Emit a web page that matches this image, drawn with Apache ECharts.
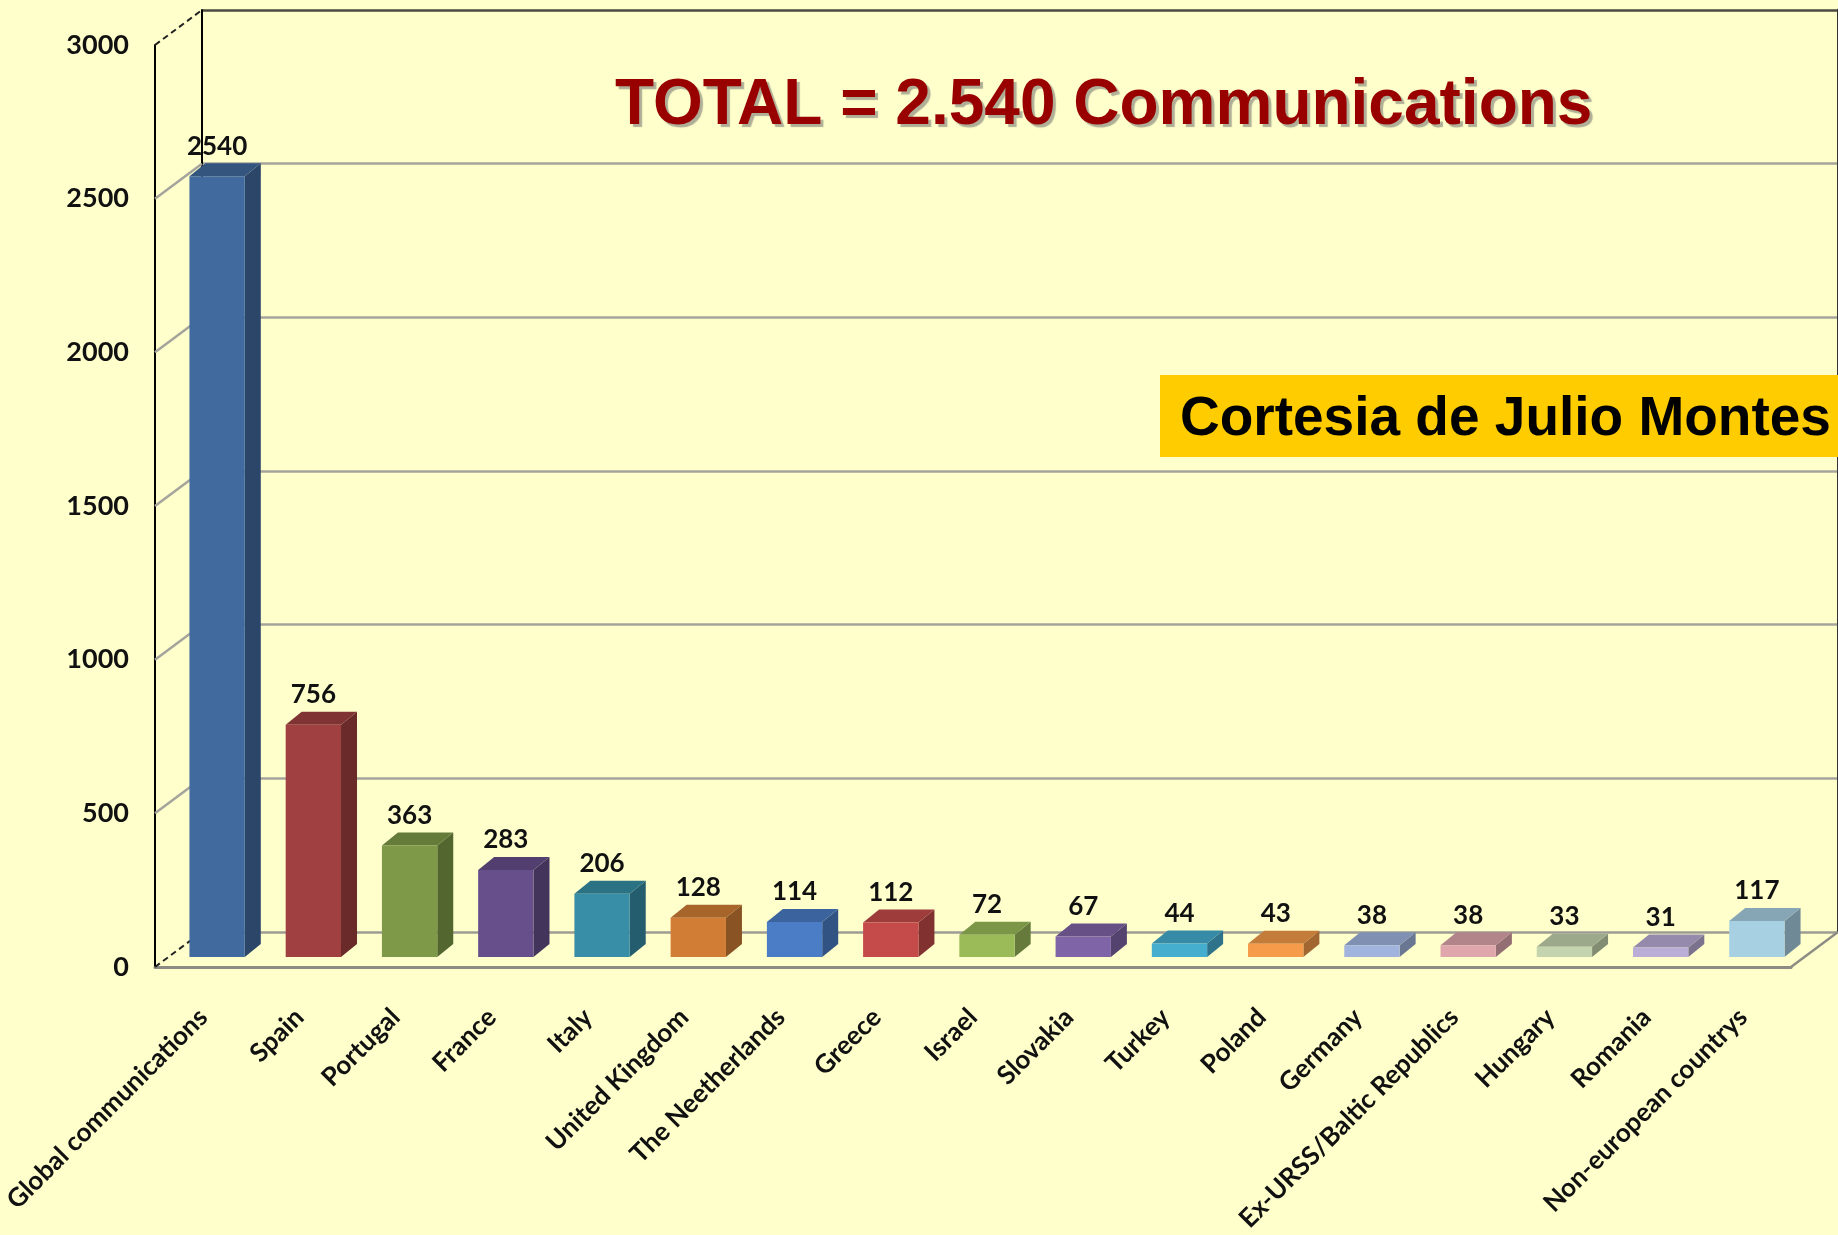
<!DOCTYPE html>
<html>
<head>
<meta charset="utf-8">
<script src="https://cdn.jsdelivr.net/npm/echarts@6/dist/echarts.min.js"></script>
<style>
html,body{margin:0;padding:0;background:#FFFFCC;}
#chart{width:1838px;height:1235px;}
</style>
</head>
<body>
<div id="chart"></div>
<script>
const categories = ['Global communications','Spain','Portugal','France','Italy','United Kingdom','The Neetherlands','Greece','Israel','Slovakia','Turkey','Poland','Germany','Ex-URSS/Baltic Republics','Hungary','Romania','Non-european countrys'];
const values = [2540,756,363,283,206,128,114,112,72,67,44,43,38,38,33,31,117];
const yTicks = [0,500,1000,1500,2000,2500,3000];
const barColors = ['#416A9E','#A04040','#7E9A48','#664F8B','#378EA6','#D17D36','#4A7DC6','#C54A4A','#9BBB59','#8064A8','#45AECF','#F59B4A','#A0B4DE','#DFA6AC','#C3D4AE','#BAADD6','#A8D0E3'];

const FRONT = {left:155, top:45, width:1636, height:922};
const BARS  = {left:169, top:35, width:1636, height:922};
const BACK  = {left:202, top:10, width:1636, height:922};
const DX = BACK.left - FRONT.left, DY = BACK.top - FRONT.top;
const BDX = 16, BDY = -13;

function shade(hex, f){
  const n = parseInt(hex.slice(1),16);
  const r = Math.round(((n>>16)&255)*f), g = Math.round(((n>>8)&255)*f), b = Math.round((n&255)*f);
  return 'rgb('+r+','+g+','+b+')';
}

const chart = echarts.init(document.getElementById('chart'));
const yMax = yTicks[yTicks.length-1];
const yBase = {type:'value', min:0, max:yMax, interval:500};
const gridBase = {containLabel:false, outerBoundsMode:'none'};

chart.setOption({
  backgroundColor:'#FFFFCC',
  animation:false,
  title:[{
    text:'TOTAL = 2.540 Communications',
    left:610, top:69,
    textStyle:{fontFamily:'Liberation Sans', fontWeight:'bold', fontSize:64, color:'#990000',
      textShadowColor:'rgba(110,110,110,0.55)', textShadowOffsetX:3, textShadowOffsetY:3, textShadowBlur:1}
  }],
  graphic:[
    {type:'rect', z:100, shape:{x:1160, y:375, width:678, height:82}, style:{fill:'#FFCC00'}},
    {type:'text', z:101, x:1180, y:420, style:{text:'Cortesia de Julio Montes', font:'bold 55px "Liberation Sans"', verticalAlign:'middle', fill:'#000'}}
  ],
  grid:[
    Object.assign({}, gridBase, FRONT),
    Object.assign({}, gridBase, BARS),
    Object.assign({}, gridBase, BACK)
  ],
  xAxis:[
    {type:'category', gridIndex:0, data:categories, axisLine:{show:true, lineStyle:{color:'#8C8C84', width:3}}, axisTick:{show:false}, splitLine:{show:false},
      axisLabel:{interval:0, rotate:45, margin:46, fontFamily:'Lato', fontWeight:'bold', fontSize:26, color:'#111'}},
    {type:'category', gridIndex:1, data:categories, show:false},
    {type:'category', gridIndex:2, data:categories, show:false}
  ],
  yAxis:[
    Object.assign({gridIndex:0, axisLine:{show:true, lineStyle:{color:'#000', width:2}}, axisTick:{show:false}, splitLine:{show:false},
      axisLabel:{margin:26, fontFamily:'Lato', fontWeight:'bold', fontSize:27, color:'#111', formatter:function(v){return String(v);}}}, yBase),
    Object.assign({gridIndex:1, show:false}, yBase),
    Object.assign({gridIndex:2, axisLine:{show:true, lineStyle:{color:'#000', width:2}}, axisTick:{show:false}, axisLabel:{show:false},
      splitLine:{show:true, lineStyle:{color:['#9C9C94','#A4A49C','#A4A49C','#A4A49C','#A4A49C','#A4A49C','#4A4A40'], width:2.5}}}, yBase),
    Object.assign({gridIndex:2, position:'right', axisLine:{show:true, lineStyle:{color:'#333', width:3}}, axisTick:{show:false}, axisLabel:{show:false}, splitLine:{show:false}}, yBase)
  ],
  series:[
    {
      type:'custom', xAxisIndex:0, yAxisIndex:0, z:1,
      data: yTicks.map(v=>[0,v]),
      renderItem:function(params, api){
        const v = api.value(1);
        const y = api.coord([0, v])[1];
        const x = params.coordSys.x;
        const edge = (v===0 || v===yMax);
        return {type:'line', shape:{x1:x, y1:y, x2:x+DX, y2:y+DY},
          style:{stroke: edge ? '#222' : '#A4A49C', lineWidth: edge ? 2 : 2.5, lineDash: edge ? [6,4] : null}};
      }
    },
    {
      type:'custom', xAxisIndex:0, yAxisIndex:0, z:1,
      data:[[categories.length-1, 0]],
      renderItem:function(params, api){
        const y = api.coord([0, 0])[1];
        const x = params.coordSys.x + params.coordSys.width;
        return {type:'line', shape:{x1:x, y1:y, x2:x+DX, y2:y+DY}, style:{stroke:'#8C8C84', lineWidth:2.5}};
      }
    },
    {
      type:'custom', xAxisIndex:1, yAxisIndex:1, z:5,
      data: values.map((v,i)=>[i,v]),
      renderItem:function(params, api){
        const i = api.value(0), v = api.value(1);
        const top = api.coord([i, v]);
        const base = api.coord([i, 0]);
        const w = api.size([1,0])[0]*0.575;
        const x0 = top[0]-w/2, x1 = top[0]+w/2;
        const yT = top[1], yB = base[1];
        const c = barColors[i];
        return {type:'group', children:[
          {type:'polygon', shape:{points:[[x1,yB],[x1+BDX,yB+BDY],[x1+BDX,yT+BDY],[x1,yT]]}, style:{fill:shade(c,0.66)}},
          {type:'polygon', shape:{points:[[x0,yT],[x0+BDX,yT+BDY],[x1+BDX,yT+BDY],[x1,yT]]}, style:{fill:shade(c,0.8)}},
          {type:'rect', shape:{x:x0, y:yT, width:w, height:yB-yT}, style:{fill:c}},
          {type:'text', style:{text:String(v), x:top[0], y:yT+BDY-4, align:'center', verticalAlign:'bottom', fontFamily:'Lato', fontWeight:'bold', fontSize:26, fill:'#111'}}
        ]};
      }
    }
  ]
});
</script>
</body>
</html>
